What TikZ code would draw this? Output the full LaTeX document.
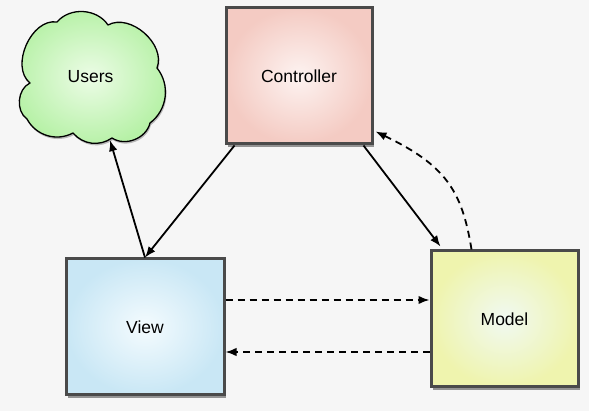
\documentclass[tikz,border=0pt]{standalone}
\usepackage{fontspec}
\setmainfont{Liberation Sans}
\usetikzlibrary{shadows,arrows.meta,calc}
\definecolor{bg}{HTML}{F6F6F6}
\definecolor{boxborder}{HTML}{4A4A4A}
\definecolor{ctrlout}{HTML}{F4CBC3}
\definecolor{ctrlin}{HTML}{FDF3F1}
\definecolor{viewout}{HTML}{C9E7F5}
\definecolor{viewin}{HTML}{F4FBFE}
\definecolor{modelout}{HTML}{EFF4AE}
\definecolor{modelin}{HTML}{F0F9F2}
\definecolor{usersout}{HTML}{B6F1A6}
\definecolor{usersin}{HTML}{ECFCE6}
\begin{document}
\begin{tikzpicture}[x=1pt,y=-1pt,
  lbl/.style={font=\fontsize{17.5}{21}\selectfont},
  box/.style={lbl, draw=boxborder, line width=3pt, inner sep=0pt, shading=radial,
    drop shadow={shadow xshift=2pt,shadow yshift=-3pt,opacity=0.4,fill=black}},
  cloudshape/.style={draw=black, line width=1.3pt, line join=round, shading=radial,
    inner color=usersin, outer color=usersout,
    drop shadow={shadow xshift=1pt,shadow yshift=-2pt,opacity=0.25,fill=black}},
  conn/.style={line width=1.8pt, -{Latex[length=11pt,width=8.5pt]}},
  dconn/.style={conn, dash pattern=on 7pt off 5pt}]
\useasboundingbox[fill=bg] (0,0) rectangle (589,411);
% cloud outline
\path[cloudshape] (57,22) to[bend left=53] (108,25) to[bend left=70] (157,68)
  to[bend left=46] (150,123) to[bend left=55] (112,138) to[bend left=42] (73,133)
  to[bend left=45] (27,119) to[bend left=60] (30,83) to[bend left=75] cycle;
\node[lbl, minimum width=145pt, minimum height=130pt, inner sep=0pt] (users) at (90.5,77) {Users};
\node[box, inner color=ctrlin, outer color=ctrlout, minimum width=146pt, minimum height=136pt] (ctrl) at (299,76) {Controller};
\node[box, inner color=viewin, outer color=viewout, minimum width=158pt, minimum height=136pt] (view) at (145,327) {View};
\node[box, inner color=modelin, outer color=modelout, minimum width=147pt, minimum height=136pt] (model) at (504.5,319) {Model};
\coordinate (vm) at ([yshift=27pt]view.east);
\coordinate (mv) at ([yshift=-25pt]view.east);
\draw[conn] (view.north) -- ([xshift=19.5pt,yshift=2pt]users.south);
\draw[conn] ([xshift=10pt]ctrl.south west) -- (view.north);
\draw[conn] ([xshift=-10pt]ctrl.south east) -- ([xshift=11pt,yshift=3pt]model.north west);
\draw[dconn] ([xshift=42pt]model.north west) .. controls (462,190) and (445,165) .. ([yshift=14pt,xshift=2pt]ctrl.south east);
\draw[dconn] (vm) -- (vm -| model.west);
\draw[dconn] (mv -| model.west) -- (mv);
\end{tikzpicture}
\end{document}
